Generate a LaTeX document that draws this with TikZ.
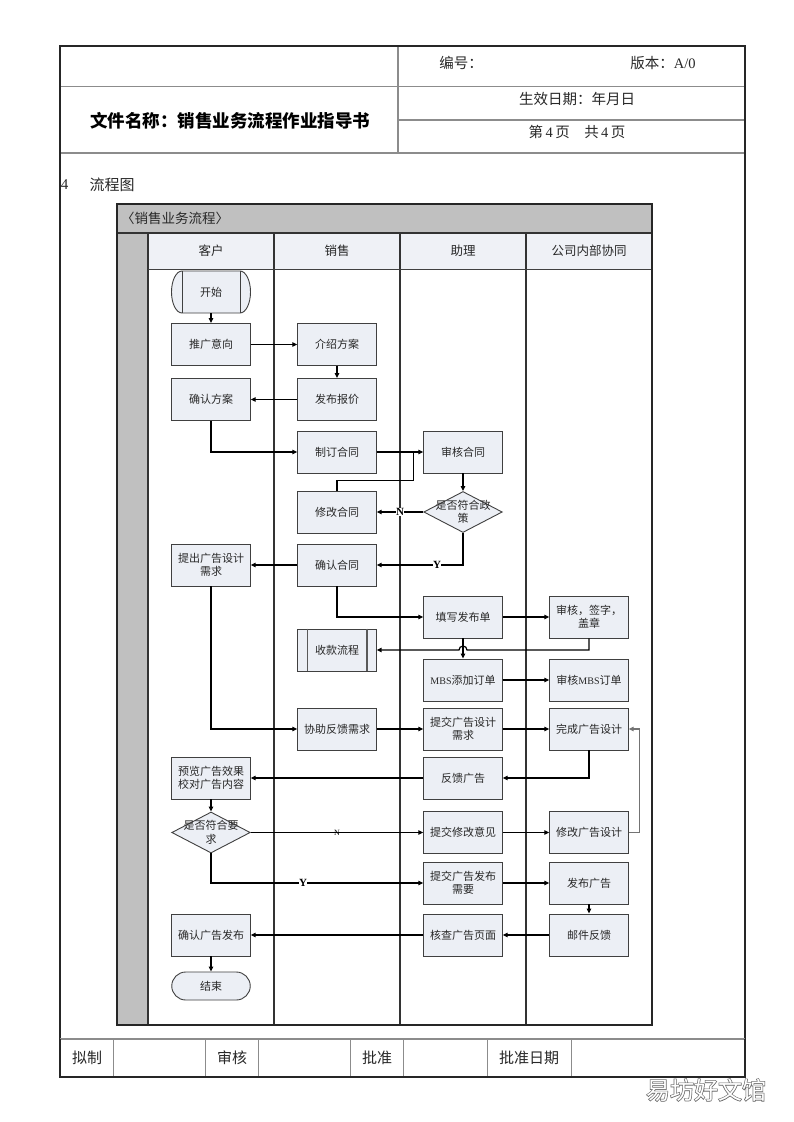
\documentclass[tikz,border=0pt]{standalone}
\usepackage{fontspec}
\setmainfont{Noto Sans CJK SC}
\newfontfamily\lat{Liberation Serif}
\newfontfamily\wmb[FakeBold=5]{Noto Sans CJK SC}
\usetikzlibrary{arrows.meta,shapes.geometric,calc}
\definecolor{boxfill}{RGB}{236,239,245}
\definecolor{hdrfill}{RGB}{239,241,246}
\definecolor{barfill}{RGB}{192,192,192}
\definecolor{gridgray}{RGB}{140,140,140}
\definecolor{txtc}{RGB}{40,40,40}
\tikzset{
  box/.style={draw=black!75, line width=0.9pt, fill=boxfill, minimum width=78.5pt, minimum height=42pt,
    inner sep=1pt, align=center, text=txtc, font=\fontsize{11}{13.5}\selectfont},
  plain/.style={inner sep=0pt, align=center, text=txtc, font=\fontsize{11}{13.5}\selectfont},
  dia/.style={diamond, draw=black!75, line width=0.9pt, fill=boxfill, minimum width=78.5pt, minimum height=41pt, inner sep=0pt},
  arr/.style={draw=black, line width=1.2pt, -{Triangle[length=5pt,width=4.5pt]}},
  ln/.style={draw=black, line width=1.2pt},
  frame/.style={draw=black!85, line width=1.4pt},
  grid/.style={draw=gridgray, line width=1.1pt},
  lane/.style={draw=black!80, line width=1.3pt},
  hd/.style={inner sep=0pt, text=txtc, font=\fontsize{14.5}{17}\selectfont},
  lanehd/.style={inner sep=0pt, text=txtc, font=\fontsize{12.5}{14}\selectfont},
  ft/.style={inner sep=0pt, text=txtc, font=\fontsize{15}{17}\selectfont},
  yn/.style={fill=white, inner sep=0.3pt, font=\lat\bfseries\fontsize{11}{12}\selectfont},
  yns/.style={inner sep=0.3pt, font=\lat\fontsize{8}{9}\selectfont}
}
\begin{document}
\begin{tikzpicture}[x=1pt,y=-1pt]
\useasboundingbox (0,0) rectangle (793,1122);
\fill[white] (0,0) rectangle (793,1122);

% ---------- header table ----------
\draw[grid] (60,86.5) -- (745,86.5);
\draw[grid] (398,46) -- (398,153);
\draw[grid] (398,120) -- (745,120);
\draw[grid] (60,153) -- (745,153);
\draw[frame] (60,1039) -- (60,46) -- (745,46) -- (745,1039);

\node[hd] (bh) at (461,63) {编号：};
\node[hd] (bb) at (663,63) {版本：{\lat A/0}};
\node[hd] (sx) at (577,99) {生效日期：年月日};
\node[hd] (dy) at (577,132) {第\,{\lat 4}\,页\quad 共\,{\lat 4}\,页};
\node[inner sep=0pt, text=black, font=\bfseries\fontsize{17.5}{20}\selectfont] (wj) at (230,121) {文件名称：销售业务流程作业指导书};
\node[hd, font=\lat\fontsize{15}{17}\selectfont] (n4) at (64.5,185) {4};
\node[hd, font=\fontsize{15}{17}\selectfont] (lct) at (112,185) {流程图};

% ---------- flowchart frame ----------
\fill[barfill] (117,204) rectangle (652,233);
\fill[barfill] (117,233) rectangle (148,1025);
\fill[hdrfill] (148,233) rectangle (652,269);
\draw[lane] (117,233) -- (652,233);
\draw[lane] (148,233) -- (148,1025);
\foreach \xx in {274,400,526} \draw[lane] (\xx,233) -- (\xx,1025);
\draw[draw=black!75, line width=0.9pt] (148,269) -- (652,269);
\draw[frame] (117,204) rectangle (652,1025);

\node[anchor=west, inner sep=0pt, text=txtc, font=\fontsize{13.5}{15}\selectfont] (ttl) at (121,218.5) {〈销售业务流程〉};
\node[lanehd] (h1) at (211,251) {客户};
\node[lanehd] (h2) at (337,251) {销售};
\node[lanehd] (h3) at (463,251) {助理};
\node[lanehd] (h4) at (589,251) {公司内部协同};

% ---------- start shape ----------
\filldraw[draw=black!75, line width=0.9pt, fill=boxfill] (182,271) -- (240,271)
  arc[start angle=90, end angle=-90, x radius=10.5pt, y radius=21pt] -- (182,313)
  arc[start angle=270, end angle=90, x radius=10.5pt, y radius=21pt] -- cycle;
\draw[draw=black!75, line width=0.9pt] (182,271) -- (182,313) (240,271) -- (240,313);
\node[plain, minimum width=78pt, minimum height=42pt] (st) at (211,292) {开始};

% ---------- nodes ----------
\node[box] (tg) at (211,344.5) {推广意向};
\node[box] (js) at (337,344.5) {介绍方案};
\node[box] (bj) at (337,399.5) {发布报价};
\node[box] (qf) at (211,399.5) {确认方案};
\node[box] (zd) at (337,452) {制订合同};
\node[box] (sh) at (463,452) {审核合同};
\node[dia] (dp) at (463,512) {};
\node[plain] (dpt) at (463,512) {是否符合政\\策};
\node[box] (xg) at (337,512) {修改合同};
\node[box] (qh) at (337,565) {确认合同};
\node[box] (tc) at (211,565) {提出广告设计\\需求};
\node[box] (tx) at (463,617) {填写发布单};
\node[box] (qz) at (589,617) {审核，签字，\\盖章};
\node[box] (sk) at (337,650) {收款流程};
\draw[draw=black!65, line width=1.6pt] ([xshift=10pt]sk.north west) -- ([xshift=10pt]sk.south west)
  ([xshift=-10pt]sk.north east) -- ([xshift=-10pt]sk.south east);
\node[box] (mbs) at (463,680) {{\lat\fontsize{10}{12}\selectfont MBS}添加订单};
\node[box] (smbs) at (589,680) {审核{\lat\fontsize{10}{12}\selectfont MBS}订单};
\node[box] (xz) at (337,729) {协助反馈需求};
\node[box] (tj) at (463,729) {提交广告设计\\需求};
\node[box] (wc) at (589,729) {完成广告设计};
\node[box] (fk) at (463,778) {反馈广告};
\node[box] (yl) at (211,778) {预览广告效果\\校对广告内容};
\node[dia] (dr) at (211,832.5) {};
\node[plain] (drt) at (211,832.5) {是否符合要\\求};
\node[box] (xy) at (463,832.5) {提交修改意见};
\node[box] (xgs) at (589,832.5) {修改广告设计};
\node[box] (fbx) at (463,883) {提交广告发布\\需要};
\node[box] (fb) at (589,883) {发布广告};
\node[box] (hc) at (463,935) {核查广告页面};
\node[box] (yj) at (589,935) {邮件反馈};
\node[box] (qr) at (211,935) {确认广告发布};
\node[box, minimum height=28pt, rounded corners=14pt] (en) at (211,986) {结束};

% ---------- connectors ----------
\draw[arr] (st) -- (tg);
\draw[arr] (tg) -- (js);
\draw[arr] (js) -- (bj);
\draw[arr] (bj) -- (qf);
\draw[arr] (qf.south) |- (zd.west);
\draw[arr] (zd) -- (sh);
\draw[ln] (xg.north) -- ++(0,-10) -| ([xshift=-10pt]sh.west);
\draw[arr] (sh) -- (dp);
\draw[arr] (dp) -- node[yn, pos=0.5] {N} (xg);
\draw[arr] (dp.south) |- node[yn, pos=0.65] {Y} (qh.east);
\draw[arr] (qh) -- (tc);
\draw[arr] (qh.south) |- (tx.west);
\draw[arr] (tx) -- (qz);
\draw[arr] (qz.south) |- ([xshift=4pt]tx.south |- sk.east)
  arc[start angle=0, end angle=180, radius=4pt] -- (sk.east);
\draw[arr] (tx) -- (mbs);
\draw[arr] (mbs) -- (smbs);
\draw[arr] (tc.south) |- (xz.west);
\draw[arr] (xz) -- (tj);
\draw[arr] (tj) -- (wc);
\draw[arr] (wc.south) |- (fk.east);
\draw[arr] (fk) -- (yl);
\draw[arr] (yl) -- (dr);
\draw[arr] (dr) -- node[yns, pos=0.5] {N} (xy);
\draw[arr] (xy) -- (xgs);
\draw[arr, draw=black!55] (xgs.east) -- ++(11,0) |- (wc.east);
\draw[arr] (dr.south) |- node[yn, pos=0.717] {Y} (fbx.west);
\draw[arr] (fbx) -- (fb);
\draw[arr] (fb) -- (yj);
\draw[arr] (yj) -- (hc);
\draw[arr] (hc) -- (qr);
\draw[arr] (qr) -- (en);

% ---------- footer ----------
\foreach \xx in {113,205,258,350,403,487,571} \draw[grid, line width=0.9pt] (\xx,1039) -- (\xx,1077);
\draw[grid] (60,1039) -- (745,1039);
\draw[frame] (60,1039) -- (60,1077) -- (745,1077) -- (745,1039);
\node[ft] (f1) at (87,1058) {拟制};
\node[ft] (f2) at (232,1058) {审核};
\node[ft] (f3) at (377,1058) {批准};
\node[ft] (f4) at (529,1058) {批准日期};

% ---------- watermark ----------
\node[inner sep=0pt, text=black!60, font=\wmb\fontsize{24}{26}\selectfont] (wm1) at (706,1090) {易坊好文馆};
\node[inner sep=0pt, text=white, font=\fontsize{24}{26}\selectfont] (wm2) at (706,1090) {易坊好文馆};
\end{tikzpicture}
\end{document}
